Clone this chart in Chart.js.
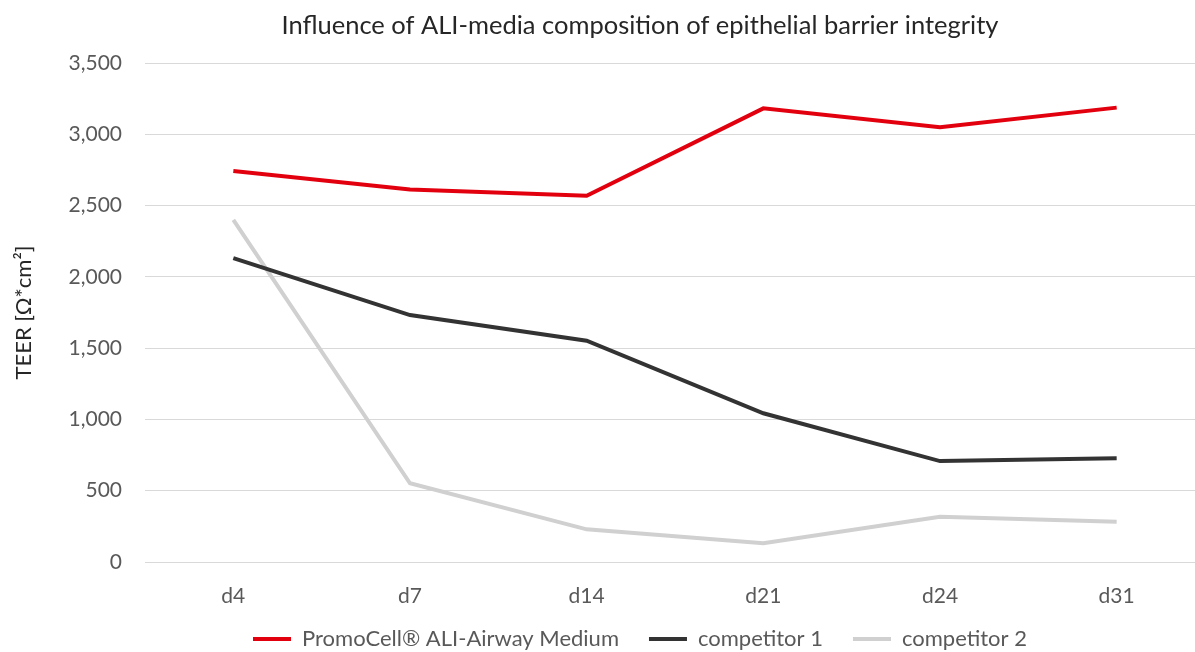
<!DOCTYPE html>
<html>
<head>
<meta charset="utf-8">
<script src="https://cdn.jsdelivr.net/npm/chart.js@4/dist/chart.umd.min.js"></script>
<style>
  html, body { margin: 0; padding: 0; background: #fff; overflow: hidden; }
  #wrap { width: 1280px; height: 660px; }
</style>
</head>
<body>
<div id="wrap"><canvas id="c" width="1280" height="660"></canvas></div>
<script>
const categories = ['d4', 'd7', 'd14', 'd21', 'd24', 'd31'];
const promoCell = [2742, 2613, 2569, 3182, 3049, 3187];
const competitor1 = [2132, 1732, 1552, 1043, 708, 727];
const competitor2 = [2399, 552, 229, 131, 318, 283];
const yTicks = [0, 500, 1000, 1500, 2000, 2500, 3000, 3500];

const tickFont = { family: 'Lato, "Open Sans", sans-serif', size: 21 };

new Chart(document.getElementById('c'), {
  type: 'line',
  data: {
    labels: categories,
    datasets: [
      { label: 'PromoCell® ALI-Airway Medium', data: promoCell, borderColor: '#e2000f', backgroundColor: '#e2000f', borderWidth: 4, pointRadius: 0, tension: 0 },
      { label: 'competitor 1', data: competitor1, borderColor: '#333333', backgroundColor: '#333333', borderWidth: 4, pointRadius: 0, tension: 0 },
      { label: 'competitor 2', data: competitor2, borderColor: '#d0d0d0', backgroundColor: '#d0d0d0', borderWidth: 4, pointRadius: 0, tension: 0 }
    ]
  },
  options: {
    responsive: false,
    animation: false,
    layout: { padding: 0 },
    plugins: {
      title: {
        display: true,
        text: 'Influence of ALI-media composition of epithelial barrier integrity',
        color: '#262626',
        font: { family: 'Lato, sans-serif', size: 25.5, weight: 'normal' },
        padding: { top: 10, bottom: 22.4 }
      },
      legend: {
        position: 'bottom',
        labels: {
          usePointStyle: true,
          pointStyle: 'line',
          pointStyleWidth: 38,
          color: '#595959',
          font: { family: 'Lato, "Open Sans", sans-serif', size: 22 },
          padding: 30
        }
      },
      tooltip: { enabled: false }
    },
    scales: {
      x: {
        offset: true,
        afterFit: (s) => { s.height = 36; s._computeLabelArea = () => undefined; },
        grid: { display: false, drawTicks: false, offset: true },
        border: { display: false },
        ticks: { color: '#595959', font: tickFont, padding: 22 }
      },
      y: {
        min: 0,
        max: 3500,
        afterBuildTicks: (s) => { s.ticks = yTicks.map(v => ({ value: v })); },
        afterFit: (s) => { s.width = 145; },
        grid: { color: '#d9d9d9', lineWidth: 1, drawTicks: false },
        border: { display: false },
        title: { display: true, text: 'TEER [Ω*cm²]', color: '#262626', font: { family: 'Lato, sans-serif', size: 22 }, padding: { top: 11, bottom: 0 } },
        ticks: {
          color: '#595959', font: tickFont, padding: 23,
          callback: (v) => v.toLocaleString('en-US')
        }
      },
      yRight: {
        position: 'right',
        afterFit: (s) => { s.width = 75; },
        grid: { display: false, drawTicks: false },
        border: { display: false },
        ticks: { display: false }
      }
    }
  }
});
</script>
</body>
</html>
